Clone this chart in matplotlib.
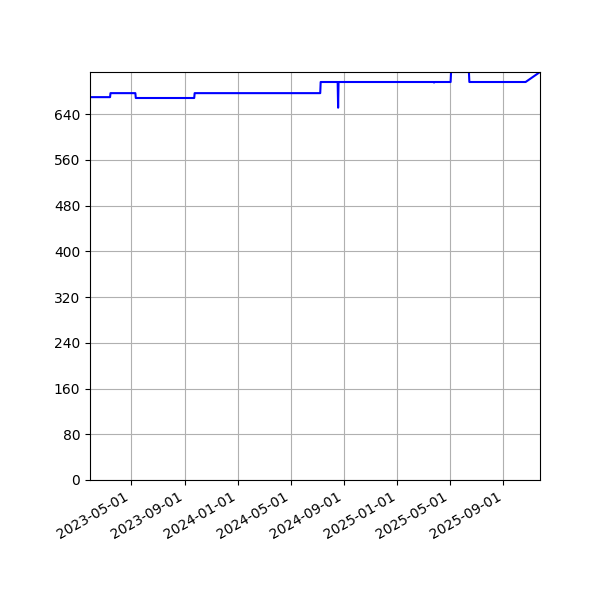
import matplotlib
matplotlib.use("Agg")
import matplotlib.pyplot as plt
import matplotlib.dates as mdates
import pandas as pd

dates = ["2023-01-27", "2023-03-14", "2023-03-15", "2023-05-11", "2023-05-12",
         "2023-09-23", "2023-09-24", "2024-07-08", "2024-07-09", "2024-08-17",
         "2024-08-18", "2024-08-19", "2025-03-25", "2025-03-26", "2025-03-27",
         "2025-05-03", "2025-05-04", "2025-06-14", "2025-06-15", "2025-10-22",
         "2025-11-24"]
values = [670, 670, 677, 677, 668.5,
          668.5, 677, 677, 696.5, 696.5,
          651.5, 696.5, 696.5, 695.5, 696.5,
          696.5, 714, 714, 696.5, 696.5,
          714]

x = pd.to_datetime(dates)

fig = plt.figure(figsize=(6, 6), dpi=100)
ax = fig.add_subplot(111)
ax.plot(x, values, color="blue", linewidth=1.5)
ax.set_xlim(x.min(), x.max())
ax.set_ylim(0, max(values))
ax.set_yticks(range(0, 641, 80))
ax.xaxis.set_major_locator(mdates.MonthLocator(bymonth=[1, 5, 9]))
ax.xaxis.set_major_formatter(mdates.DateFormatter("%Y-%m-%d"))
ax.grid(True)
fig.autofmt_xdate()
fig.subplots_adjust(left=0.15, right=0.9, top=0.88, bottom=0.2)
fig.savefig("out.png", dpi=100)
